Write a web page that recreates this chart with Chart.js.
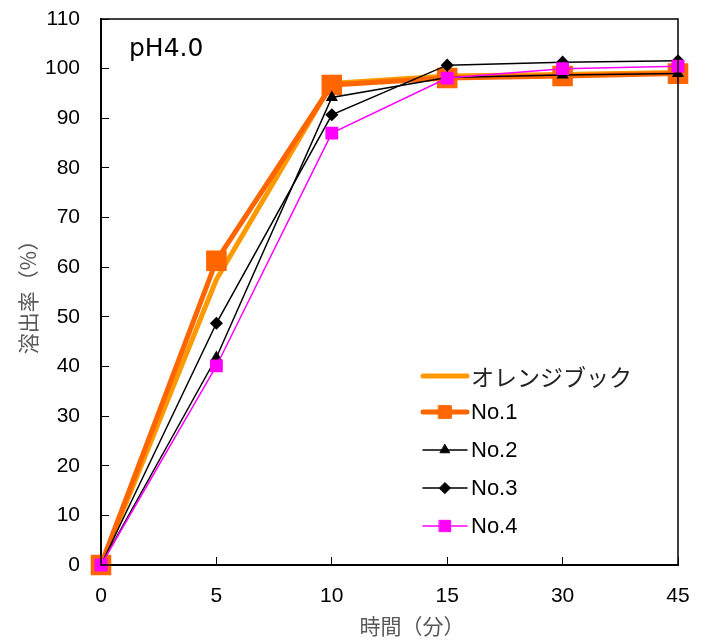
<!DOCTYPE html>
<html>
<head>
  <meta charset="utf-8">
  <title>溶出率 pH4.0</title>
  <script src="https://cdn.jsdelivr.net/npm/chart.js"></script>
  <style>
    body { margin: 0; background: #fff; }
    #wrap { width: 708px; height: 643px; }
  </style>
</head>
<body>
  <div id="wrap"><canvas id="dissolutionChart"></canvas></div>

  <script>
    // 時間（分）
    const times = ['0', '5', '10', '15', '30', '45'];
    const yTicks = [0, 10, 20, 30, 40, 50, 60, 70, 80, 90, 100, 110];

    // 溶出率（%）
    const orangeBook = [0, 57.5, 97.0, 98.5, 98.8, 99.2];
    const no1 = [0, 61.3, 96.7, 98.1, 98.5, 99.0];
    const no2 = [0, 41.8, 94.2, 98.2, 98.7, 99.0];
    const no3 = [0, 48.7, 90.7, 100.7, 101.3, 101.6];
    const no4 = [0, 40.1, 87.0, 98.1, 100.0, 100.5];

    const seriesNames = ['オレンジブック', 'No.1', 'No.2', 'No.3', 'No.4'];

    const fontLatin = '"Liberation Sans", Arial, sans-serif';
    const fontJp = '"Noto Sans CJK JP", sans-serif';

    // 枠線・凡例・注釈
    const framePlugin = {
      id: 'frame',
      afterDraw(chart) {
        const { ctx, chartArea: a } = chart;
        ctx.save();
        ctx.strokeStyle = '#000';
        ctx.lineWidth = 1.5;
        ctx.strokeRect(a.left, a.top, a.right - a.left, a.bottom - a.top);

        // pH label
        ctx.fillStyle = '#000';
        ctx.font = '25px "DejaVu Sans", sans-serif';
        ctx.textBaseline = 'middle';
        ctx.textAlign = 'left';
        ctx.fillText('pH4.0', a.left + 28, a.top + 30);

        // axis titles
        ctx.fillStyle = '#595959';
        ctx.font = '21px ' + fontJp;
        ctx.textAlign = 'center';
        ctx.fillText('時間（分）', a.left + 311, a.bottom + 61);
        ctx.save();
        ctx.translate(a.left - 73, (a.top + a.bottom) / 2);
        ctx.rotate(-Math.PI / 2);
        ctx.fillText('溶出率（%）', 0, 0);
        ctx.restore();

        // legend with line + marker samples
        const x0 = a.left + 322, x1 = a.left + 366;
        const rowY = [376, 412, 450, 488, 526];
        chart.data.datasets.forEach((ds, i) => {
          const y = rowY[i];
          ctx.strokeStyle = ds.borderColor;
          ctx.lineWidth = ds.borderWidth;
          ctx.lineCap = 'round';
          ctx.beginPath();
          ctx.moveTo(x0, y);
          ctx.lineTo(x1, y);
          ctx.stroke();
          if (ds.pointRadius > 0) {
            ctx.fillStyle = ds.pointBackgroundColor;
            ctx.strokeStyle = ds.pointBorderColor;
            ctx.lineWidth = 1;
            Chart.helpers.drawPoint(ctx, {
              pointStyle: ds.pointStyle,
              radius: ds.legendRadius,
              rotation: 0,
              borderWidth: 1
            }, (x0 + x1) / 2, y);
          }
          ctx.fillStyle = '#000';
          ctx.textAlign = 'left';
          if (i === 0) {
            ctx.font = '23px ' + fontJp;
            ctx.fillStyle = '#222';
          } else {
            ctx.font = '22px ' + fontLatin;
          }
          ctx.fillText(seriesNames[i], x1 + 4, y + 1);
        });
        ctx.restore();
      }
    };

    const ctx = document.getElementById('dissolutionChart').getContext('2d');

    const dissolutionChart = new Chart(ctx, {
      type: 'line',
      data: {
        labels: times,
        datasets: [
          {
            label: seriesNames[0],
            data: orangeBook,
            borderColor: '#FF9900',
            backgroundColor: '#FF9900',
            borderWidth: 5,
            pointRadius: 0,
            order: 4
          },
          {
            label: seriesNames[1],
            data: no1,
            borderColor: '#FF6600',
            backgroundColor: '#FF6600',
            pointBackgroundColor: '#FF6600',
            pointBorderColor: '#FF6600',
            borderWidth: 5,
            pointStyle: 'rect',
            pointRadius: 11,
            legendRadius: 9,
            order: 3
          },
          {
            label: seriesNames[2],
            data: no2,
            borderColor: '#000',
            backgroundColor: '#000',
            pointBackgroundColor: '#000',
            pointBorderColor: '#000',
            borderWidth: 1.5,
            pointStyle: 'triangle',
            pointRadius: 5.5,
            legendRadius: 5.5,
            order: 2
          },
          {
            label: seriesNames[3],
            data: no3,
            borderColor: '#000',
            backgroundColor: '#000',
            pointBackgroundColor: '#000',
            pointBorderColor: '#000',
            borderWidth: 1.5,
            pointStyle: 'rectRot',
            pointRadius: 5.5,
            legendRadius: 5.5,
            order: 1
          },
          {
            label: seriesNames[4],
            data: no4,
            borderColor: '#FF00FF',
            backgroundColor: '#FF00FF',
            pointBackgroundColor: '#FF00FF',
            pointBorderColor: '#FF00FF',
            borderWidth: 1.5,
            pointStyle: 'rect',
            pointRadius: 8,
            legendRadius: 8,
            order: 0
          }
        ]
      },
      options: {
        responsive: true,
        maintainAspectRatio: false,
        animation: false,
        clip: false,
        tension: 0,
        layout: { autoPadding: false, padding: { left: 0, right: 30, top: 19, bottom: 0 } },
        plugins: {
          legend: { display: false },
          tooltip: { enabled: false }
        },
        scales: {
          x: {
            type: 'category',
            offset: false,
            grid: {
              drawOnChartArea: false,
              drawTicks: true,
              tickLength: -8,
              color: '#000',
              lineWidth: 1
            },
            border: { color: '#000', width: 2 },
            ticks: {
              color: '#000',
              padding: 27,
              maxRotation: 0,
              font: { family: fontLatin, size: 21 }
            },
            afterFit(scale) {
              scale.height = 78;
              scale.paddingLeft = 0;
              scale.paddingRight = 0;
            }
          },
          y: {
            min: 0,
            max: 110,
            afterBuildTicks(scale) { scale.ticks = yTicks.map(v => ({ value: v })); },
            grid: {
              drawOnChartArea: false,
              drawTicks: true,
              tickLength: -8,
              color: '#000',
              lineWidth: 1
            },
            border: { color: '#000', width: 2 },
            ticks: {
              color: '#000',
              padding: 29,
              font: { family: fontLatin, size: 21 }
            },
            afterFit(scale) {
              scale.width = 101;
              scale.paddingTop = 0;
              scale.paddingBottom = 0;
            }
          }
        }
      },
      plugins: [framePlugin]
    });
  </script>
</body>
</html>
